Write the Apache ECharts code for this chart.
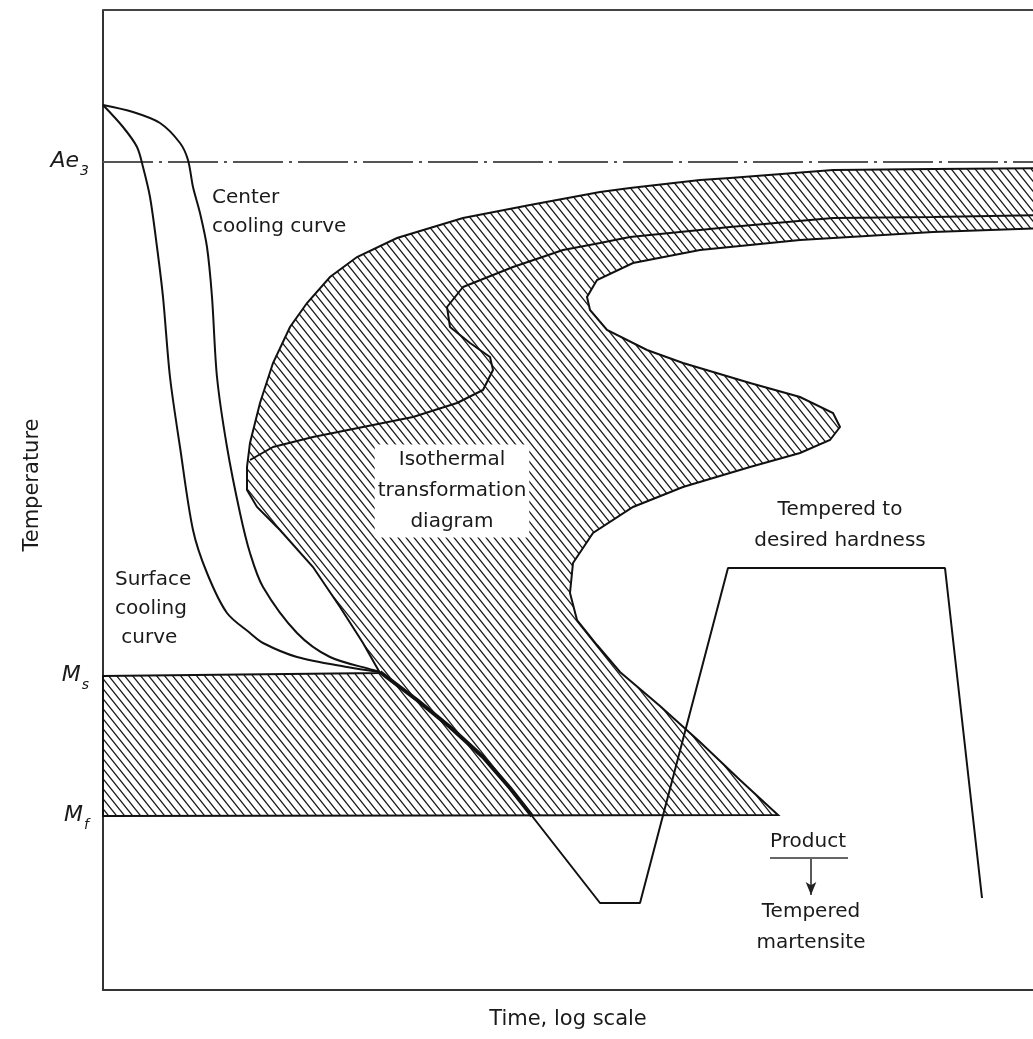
<!DOCTYPE html>
<html><head><meta charset="utf-8">
<script src="https://cdn.jsdelivr.net/npm/echarts@6/dist/echarts.min.js"></script>
<style>html,body{margin:0;padding:0;background:#fff}#c{width:1033px;height:1039px}</style>
</head><body><div id="c"></div>
<script>
// time (arbitrary log units) , temperature (arbitrary units)
const surfaceCooling = [[0,885],[20,863],[34,843],[40,823],[47,793],[54,743],[60,693],[67,613],[77,543],[90,460],[104,417],[124,377],[147,357],[160,347],[194,333],[244,323],[277,318]];
const centerCooling = [[0,885],[30,878],[57,867],[77,847],[85,830],[90,803],[97,777],[104,743],[109,693],[114,613],[124,543],[137,477],[147,437],[160,403],[194,357],[227,333],[270,320],[277,318]];
const mergedQuench = [[277,318],[314,290],[347,263],[380,233],[407,202],[429,174]];
const temperPath = [[429,174],[497,87],[537,87],[625,422],[842,422],[879,92]];
const ae3Line = [[0,828],[945,828]];
const topEdge = [[0,980],[945,980]];
const transformedRegion = [[945,822],[830,821],[730,820],[627,812],[597,810],[527,802],[497,798],[427,785],[360,772],[294,752],[254,733],[227,713],[204,687],[187,663],[170,627],[157,587],[147,547],[144,523],[144,500],[154,483],[177,460],[210,423],[237,383],[260,347],[277,317],[0,314],[0,174],[675,175],[637,210],[597,248],[557,284],[517,318],[494,345],[474,370],[467,397],[470,427],[490,457],[530,483],[580,503],[647,523],[697,537],[727,550],[737,563],[730,577],[697,593],[647,607],[580,627],[544,640],[504,660],[487,680],[484,693],[494,710],[530,727],[597,740],[697,750],[830,758],[945,762]];
const middleCurve = [[945,775],[830,773],[730,772],[627,763],[527,753],[497,747],[460,740],[410,723],[360,703],[344,683],[347,663],[367,647],[387,633],[390,620],[380,600],[354,587],[310,573],[260,563],[210,553],[170,543],[147,530]];
const productUnderline = [[667,132],[745,132]];
const productArrow = [[708,131],[708,95]];
const tempLevels = [[0,828,'{m|Ae}{s|3}'],[0,314,'{m|M}{s|s}'],[0,174,'{m|M}{s|f}']];
const notesLeft = [[109,778,'Center\ncooling curve'],[12,381,'Surface\ncooling\n curve']];
const notesCenter = [[349,499,'Isothermal\ntransformation\ndiagram'],[737,465,'Tempered to\ndesired hardness'],[705,148,'Product'],[708,63,'Tempered\nmartensite']];

const FONT = "'DejaVu Sans',sans-serif";
const INK = '#1a1a1a';

function hatch() {
  const w = 8, h = 10, c = document.createElement('canvas');
  c.width = w; c.height = h;
  const g = c.getContext('2d');
  g.strokeStyle = '#1a1a1a'; g.lineWidth = 1.3;
  g.beginPath();
  for (const dx of [-w, 0, w]) { g.moveTo(dx - w*0.2, -h*0.2); g.lineTo(dx + w*1.2, h*1.2); }
  g.stroke();
  return c;
}
const pat = {image: hatch(), repeat: 'repeat'};

const chart = echarts.init(document.getElementById('c'), null, {renderer:'canvas'});
const lineBase = {type:'line', symbol:'none', silent:true, smooth:false, z:5};
const textSeries = {type:'scatter', silent:true, symbolSize:0, z:10, itemStyle:{opacity:1}};
const centerNotesData = notesCenter.map((n, i) => i === 0 ? {value:n, label:{backgroundColor:'#fff', padding:[0,3]}} : {value:n});
chart.setOption({
  animation:false,
  backgroundColor:'#fff',
  grid:{left:103, right:0, top:10, bottom:49, outerBoundsMode:'none', containLabel:false},
  xAxis:{type:'value', min:0, max:930, axisLine:{show:true, lineStyle:{color:'#333', width:2}}, axisTick:{show:false}, axisLabel:{show:false}, splitLine:{show:false},
    name:'Time, log scale', nameLocation:'middle', nameGap:19, nameTextStyle:{fontFamily:FONT, fontSize:21, color:INK}},
  yAxis:{type:'value', min:0, max:980, axisLine:{show:true, lineStyle:{color:'#333', width:2}}, axisTick:{show:false}, axisLabel:{show:false}, splitLine:{show:false},
    name:'Temperature', nameLocation:'middle', nameGap:60, nameTextStyle:{fontFamily:FONT, fontSize:21, color:INK, padding:[0,0,0,30]}},
  series:[
    {type:'custom', silent:true, z:2, data:[0], renderItem:function(params, api){
      const pts = transformedRegion.map(p => api.coord(p));
      return {type:'polygon', shape:{points:pts}, style:{fill:pat, stroke:'#111', lineWidth:2}};
    }},
    Object.assign({}, lineBase, {data:topEdge, lineStyle:{color:'#444', width:2}}),
    Object.assign({}, lineBase, {data:ae3Line, lineStyle:{color:'#555', width:2, type:[50,6,3,6]}}),
    Object.assign({}, lineBase, {data:middleCurve, lineStyle:{color:'#111', width:2}}),
    Object.assign({}, lineBase, {data:surfaceCooling, smooth:0.3, lineStyle:{color:'#111', width:2}}),
    Object.assign({}, lineBase, {data:centerCooling, smooth:0.3, lineStyle:{color:'#111', width:2}}),
    Object.assign({}, lineBase, {data:mergedQuench, lineStyle:{color:'#111', width:4}}),
    Object.assign({}, lineBase, {data:temperPath, lineStyle:{color:'#111', width:2}}),
    Object.assign({}, lineBase, {data:productUnderline, lineStyle:{color:'#666', width:2}}),
    Object.assign({}, lineBase, {data:productArrow, showSymbol:true,
      symbol:(v, p) => p.dataIndex === 1 ? 'arrow' : 'none', symbolRotate:180, symbolSize:[8,13],
      lineStyle:{color:'#222', width:1.5}, itemStyle:{color:'#222', opacity:1}}),
    Object.assign({}, textSeries, {data:tempLevels,
      label:{show:true, position:'left', distance:14, formatter:p=>p.data[2],
        rich:{m:{fontFamily:FONT, fontSize:22, fontStyle:'italic', color:INK, verticalAlign:'top', lineHeight:24},
              s:{fontFamily:FONT, fontSize:14, fontStyle:'italic', color:INK, verticalAlign:'top', padding:[14,0,0,1], lineHeight:14}}}}),
    Object.assign({}, textSeries, {data:notesLeft,
      label:{show:true, position:'inside', align:'left', verticalAlign:'middle', formatter:p=>p.data[2], fontFamily:FONT, fontSize:20, lineHeight:29, color:INK}}),
    Object.assign({}, textSeries, {data:centerNotesData,
      label:{show:true, position:'inside', align:'center', verticalAlign:'middle', formatter:p=>p.value[2], fontFamily:FONT, fontSize:20, lineHeight:31, color:INK}})
  ]
});
</script></body></html>
